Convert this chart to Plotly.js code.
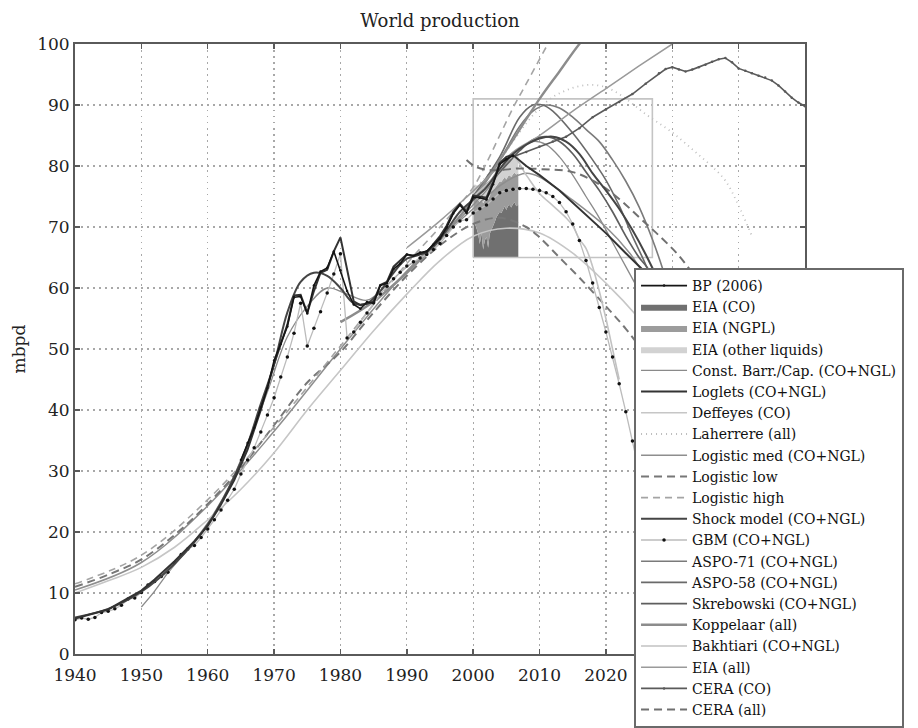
<!DOCTYPE html>
<html>
<head>
<meta charset="utf-8">
<script src="https://cdn.plot.ly/plotly-3.0.1.min.js"></script>
<style>
  html, body { margin: 0; padding: 0; background: #fff; }
  #chart { width: 918px; height: 728px; }
</style>
</head>
<body>
<div id="chart"></div>
<script>
// ---- Historical production, BP Statistical Review 2006 (mbpd) ----
var bpYears = [1965,1966,1967,1968,1969,1970,1971,1972,1973,1974,1975,1976,1977,1978,1979,1980,1981,1982,1983,1984,1985,1986,1987,1988,1989,1990,1991,1992,1993,1994,1995,1996,1997,1998,1999,2000,2001,2002,2003,2004,2005,2006];
var bpValues = [31.8,34.6,37.1,40.4,43.6,48.1,50.8,53.7,58.5,58.6,55.8,60.4,62.7,63.3,66.0,62.9,59.5,57.3,56.6,57.7,57.5,60.4,60.8,63.1,64.0,65.5,65.3,65.8,66.0,67.1,68.1,69.9,72.2,73.6,72.3,74.9,74.8,74.5,77.0,80.3,81.1,81.7];

// ---- EIA monthly data 2000-2006, stacked levels inside the 65-91 detail box ----
var eiaYears = [2000.0,2000.25,2000.5,2000.75,2001.0,2001.25,2001.5,2001.75,2002.0,2002.25,2002.5,2002.75,2003.0,2003.25,2003.5,2003.75,2004.0,2004.25,2004.5,2004.75,2005.0,2005.25,2005.5,2005.75,2006.0,2006.25,2006.5,2006.8];
var eiaFloor = 65;
var eiaCoTop = [70.2,70.6,69.8,68.9,67.2,69.0,66.3,67.8,68.4,66.6,68.9,69.5,70.3,70.8,71.6,72.0,72.5,72.3,73.0,73.4,72.8,73.5,73.6,73.2,73.8,74.0,73.4,73.7];
var eiaNgplTop = [74.6,75.0,74.7,74.3,74.1,74.6,73.9,74.4,74.8,74.5,75.2,75.6,76.0,76.4,76.9,77.2,77.5,77.4,77.9,78.2,77.8,78.3,78.5,78.2,78.7,78.9,78.6,78.8];
var eiaOtherTop = [76.6,77.0,76.8,76.5,76.3,76.8,76.2,76.7,77.1,76.9,77.6,78.0,78.5,79.0,79.5,79.8,80.2,80.1,80.6,80.9,80.6,81.1,81.4,81.1,81.6,81.9,81.6,81.8];

// ---- Detail box drawn around the 2000-2027 forecast region ----
var boxYears = [2000, 2027];
var boxLevels = [65, 91];

// ---- Axis ticks ----
var yearTicks = [1940,1950,1960,1970,1980,1990,2000,2010,2020,2030,2040,2050];
var yearTickLabels = ['1940','1950','1960','1970','1980','1990','2000','2010','2020','','',''];

// ---- Model fits and forecasts (mbpd) ----
var constBarrYears = [1950,1952,1954,1957,1960,1963,1966,1969,1972,1975,1978,1981,1984,1987,1990,1993,1996,1999,2002,2005,2007,2009,2011,2013,2015,2017,2019,2021,2023,2025,2028];
var constBarrValues = [7.7,10.3,13.3,17.2,21.5,27,34.5,43,52,57,60,59,58,60.5,63.5,65.5,69,72.5,76,80.5,82.8,84,83.5,81.5,78.5,75,71.5,67.5,63.5,59.5,53];

var logletYears = [1940,1945,1950,1952,1955,1958,1960,1962,1964,1966,1968,1970,1972,1973,1974,1975,1976,1977,1978,1979,1980,1981,1982,1983,1984,1985,1986,1987,1988,1989,1990,1991,1992,1993,1994,1995,1996,1997,1998,1999,2000,2001,2002,2003,2004,2005,2006,2008,2010,2013,2015,2018,2020,2023,2026,2030];
var logletValues = [5.8,7.3,10.4,12.2,15.2,18.5,21,24.5,28.5,33.5,40,47.5,54,58.8,58.9,55.9,59.5,62.5,63,66,68.3,63,57.8,57.2,57.4,57.8,60.5,61,63.5,64.5,65.5,65.3,65.6,65.8,67.2,68.5,70.2,72.5,73.8,72.5,75.2,75,74.8,77.3,80.5,81.5,81.8,80,78.5,76,74,71,69,65.7,62.5,57];

var deffeyesYears = [1940,1945,1950,1955,1960,1965,1970,1975,1980,1985,1990,1995,2000,2005,2010,2015,2020,2025,2030];
var deffeyesValues = [10.0,12.0,14.2,17.5,22,27,33,40,46.5,53,59,64.5,68.5,69.8,69,65.7,60.8,55,48];

var laherrereYears = [2000,2003,2006,2008,2010,2012,2014,2016,2018,2020,2022,2024,2026,2028,2030,2032,2034,2036,2038,2040,2042];
var laherrereValues = [76,79.5,84,87,89.5,91.3,92.4,93.1,93.3,92.9,91.8,90.2,88.5,87,85.5,83.7,81.8,79.9,77.6,73.5,68.5];

var logMedYears = [1940,1950,1960,1970,1980,1990,2000,2005,2008,2010,2015,2020,2023.6,2025,2030];
var logMedValues = [10.5,15.0,24.3,36.5,50,62.8,73,77.5,78.8,78.2,74.4,70,65.7,63.5,55];

var logLowYears = [1940,1945,1950,1955,1960,1965,1970,1975,1980,1985,1990,1995,2000,2004,2008,2010,2013,2016,2020,2023,2026,2030];
var logLowValues = [11.0,13,15.5,19.5,24.6,30.5,37.5,44.5,49.5,56,62,67,70.5,71.5,70,68.3,65,61.7,57,53.3,49,43];

var logHighYears = [1940,1950,1960,1970,1980,1990,1995,2000,2002,2004,2006,2008,2010,2012];
var logHighValues = [11.5,16.2,25.3,37.2,50.5,64,70,76.5,80.5,85,89.5,93.5,97.5,101.5];

var shockYears = [1940,1945,1950,1955,1960,1965,1968,1970,1972,1974,1976,1978,1980,1982,1984,1986,1988,1990,1992,1994,1996,1998,2000,2002,2004,2006,2008,2010,2012,2014,2016,2018,2020,2022,2024,2026,2028,2030];
var shockValues = [6.0,7.4,10.2,14.8,21.2,31.5,41,47.5,56,61,62.5,62,60,57.5,57.5,59.5,62.5,64.8,65.5,66.8,69.5,72.5,74.5,76.5,79.5,82,83.5,84.5,84.8,84,82,78.8,76,73,69.5,65.5,61,56];

var gbmYears = [1940,1941,1942,1943,1944,1945,1946,1947,1948,1949,1950,1951,1952,1953,1954,1955,1956,1957,1958,1959,1960,1961,1962,1963,1964,1965,1966,1967,1968,1969,1970,1971,1972,1973,1974,1975,1976,1977,1978,1979,1980,1981,1982,1983,1984,1985,1986,1987,1988,1989,1990,1991,1992,1993,1994,1995,1996,1997,1998,1999,2000,2001,2002,2003,2004,2005,2006,2007,2008,2009,2010,2011,2012,2013,2014,2015,2016,2017,2018,2019,2020,2021,2022,2023,2024,2025];
var gbmValues = [5.6,5.9,5.7,6.0,6.8,7.0,7.4,8.0,9.0,9.2,10.1,11.3,11.9,12.7,13.4,15.0,16.3,17.2,17.8,19.1,20.5,22.0,23.6,25.2,27.0,29.5,31.8,33.8,36.4,39.2,42.0,45.4,48.7,52.6,57.5,50.5,53.4,56.1,59.2,62.3,65.6,51.8,52.8,54.4,55.9,57.6,59.0,60.3,61.5,62.6,63.6,64.3,64.9,65.5,66.3,67.3,68.6,70.0,71.0,71.2,72.3,73.0,73.6,74.6,75.6,76.0,76.2,76.3,76.3,76.2,76.0,75.6,75.0,74.0,72.5,70.5,67.8,64.5,60.8,56.8,52.8,48.7,44.3,39.7,34.9,30.0];

var aspo71Years = [2000,2004,2007,2009,2011,2013,2015,2017,2019,2021,2023,2025,2027,2028.6,2030];
var aspo71Values = [75,81,86.5,89,90,89.5,88,86,84,81,77.5,73.3,68,63,58];

var aspo58Years = [2000,2004,2007,2009,2010.5,2012,2015,2018,2020,2022,2024,2026,2028];
var aspo58Values = [75,81.5,88,90,90,89,85.4,81,77.7,73.5,68.5,63.8,58];

var skrebYears = [2000,2004,2007,2009,2011,2013,2015,2017,2019,2021,2023,2025,2026.2,2028];
var skrebValues = [75,79,82.5,84.3,84.8,84,82,79,76,72.5,68.5,65,63.4,60];

var koppYears = [1980,1985,1990,1995,2000,2005,2010,2013,2016,2020];
var koppValues = [54.4,57.8,62.5,68,74.5,82.6,91,95.5,100,105];

var bakhYears = [2000,2003,2006,2008,2010,2012,2014,2015,2016,2017,2018,2019,2020,2021,2022];
var bakhValues = [75,78,81.5,78.5,75.5,73.5,71.5,70.2,68,66.5,63.5,59.5,55,50,45];

var eiaAllYears = [1990,1995,1999,2003,2006,2010,2015,2020,2025,2030,2035];
var eiaAllValues = [66.6,71,74.9,79,82.3,85,89,92.7,96.4,100,103.5];

var ceraCoYears = [2006,2008,2010,2012,2014,2016,2018,2020,2022,2024,2026,2028,2029,2030,2031,2032,2033,2034,2035,2036,2037,2038,2039,2040,2041,2042,2043,2044,2045,2046,2047,2048,2049,2050];
var ceraCoValues = [81.5,82.3,83.2,84,84.8,86.2,88,89.3,90.5,91.8,93.5,95.2,95.9,96.2,95.8,95.5,95.8,96.2,96.6,97.1,97.5,97.7,97.0,96.0,95.6,95.2,94.8,94.5,94.0,93.2,92.2,91.2,90.4,89.8];

var ceraAllYears = [1999,2000.5,2003,2007,2010,2015,2019,2022,2025,2028,2031,2034];
var ceraAllValues = [81,79.8,79.3,79.6,79.5,79,77,74.6,71.6,68.6,65.3,61];

// ---- Styling ----
var SERIF = '"DejaVu Serif", "Liberation Serif", serif';

function line(name, x, y, color, width, opts) {
  opts = opts || {};
  var t = {
    type: 'scatter', mode: opts.mode || 'lines', name: name, x: x, y: y,
    line: {color: color, width: width, dash: opts.dash || 'solid', shape: opts.shape || 'linear', smoothing: 1},
    legendrank: opts.rank, showlegend: true, hoverinfo: 'skip'
  };
  if (opts.marker) t.marker = opts.marker;
  return t;
}

var traces = [];

// stacked EIA areas (floor is an invisible helper line)
traces.push({type:'scatter', mode:'lines', x: eiaYears, y: eiaYears.map(function(){return eiaFloor;}),
  line:{width:0, color:'rgba(0,0,0,0)'}, showlegend:false, hoverinfo:'skip'});
traces.push({type:'scatter', mode:'lines', name:'EIA (CO)', x: eiaYears, y: eiaCoTop, fill:'tonexty',
  fillcolor:'#707070', line:{width:0, color:'#707070'}, legendrank:2, hoverinfo:'skip'});
traces.push({type:'scatter', mode:'lines', name:'EIA (NGPL)', x: eiaYears, y: eiaNgplTop, fill:'tonexty',
  fillcolor:'#9c9c9c', line:{width:0, color:'#9c9c9c'}, legendrank:3, hoverinfo:'skip'});
traces.push({type:'scatter', mode:'lines', name:'EIA (other liquids)', x: eiaYears, y: eiaOtherTop, fill:'tonexty',
  fillcolor:'#d2d2d2', line:{width:0, color:'#d2d2d2'}, legendrank:4, hoverinfo:'skip'});

// detail box
traces.push({type:'scatter', mode:'lines', showlegend:false, hoverinfo:'skip',
  x:[boxYears[0], boxYears[1], boxYears[1], boxYears[0], boxYears[0]],
  y:[boxLevels[0], boxLevels[0], boxLevels[1], boxLevels[1], boxLevels[0]],
  line:{color:'#c4c4c4', width:1.6}});

traces.push(line('Const. Barr./Cap. (CO+NGL)', constBarrYears, constBarrValues, '#8a8a8a', 1.3, {rank:5, shape:'spline'}));
traces.push(line('Deffeyes (CO)', deffeyesYears, deffeyesValues, '#c6c6c6', 1.6, {rank:7, shape:'spline'}));
traces.push(line('Laherrere (all)', laherrereYears, laherrereValues, '#bdbdbd', 1.8, {rank:8, shape:'spline', dash:'1px,4px'}));
traces.push(line('Logistic med (CO+NGL)', logMedYears, logMedValues, '#8e8e8e', 1.5, {rank:9, shape:'spline'}));
traces.push(line('Logistic low', logLowYears, logLowValues, '#777777', 2, {rank:10, shape:'spline', dash:'8px,5px'}));
traces.push(line('Logistic high', logHighYears, logHighValues, '#a4a4a4', 1.6, {rank:11, shape:'spline', dash:'7px,5px'}));
traces.push(line('ASPO-71 (CO+NGL)', aspo71Years, aspo71Values, '#7a7a7a', 1.6, {rank:14, shape:'spline'}));
traces.push(line('ASPO-58 (CO+NGL)', aspo58Years, aspo58Values, '#6a6a6a', 1.6, {rank:15, shape:'spline'}));
traces.push(line('Skrebowski (CO+NGL)', skrebYears, skrebValues, '#5e5e5e', 1.7, {rank:16, shape:'spline'}));
traces.push(line('Koppelaar (all)', koppYears, koppValues, '#8c8c8c', 2.4, {rank:17, shape:'spline'}));
traces.push(line('Bakhtiari (CO+NGL)', bakhYears, bakhValues, '#c2c2c2', 1.6, {rank:18, shape:'spline'}));
traces.push(line('EIA (all)', eiaAllYears, eiaAllValues, '#9a9a9a', 1.5, {rank:19, shape:'spline'}));
traces.push(line('CERA (CO)', ceraCoYears, ceraCoValues, '#5a5a5a', 1.6, {rank:20, mode:'lines+markers', marker:{size:2.5, color:'#5a5a5a'}}));
traces.push(line('CERA (all)', ceraAllYears, ceraAllValues, '#707070', 2, {rank:21, shape:'spline', dash:'8px,5px'}));
traces.push(line('GBM (CO+NGL)', gbmYears, gbmValues, '#bbbbbb', 1.3, {rank:13, mode:'lines+markers', marker:{size:3.5, color:'#111'}}));
traces.push(line('Shock model (CO+NGL)', shockYears, shockValues, '#454545', 2, {rank:12, shape:'spline'}));
traces.push(line('Loglets (CO+NGL)', logletYears, logletValues, '#333333', 2, {rank:6}));
traces.push(line('BP (2006)', bpYears, bpValues, '#161616', 1.6, {rank:1, mode:'lines+markers', marker:{size:2.5, color:'#161616'}}));

var axisCommon = {
  showline: true, linecolor: '#5a5a5a', linewidth: 2, mirror: 'ticks',
  ticks: 'inside', ticklen: 5, tickwidth: 1.5, tickcolor: '#5a5a5a',
  showgrid: true, gridcolor: '#a8a8a8', gridwidth: 1.3, griddash: '1.5px,4.5px',
  zeroline: false, tickfont: {family: SERIF, size: 17, color: '#222'}
};

var layout = {
  width: 918, height: 728,
  paper_bgcolor: '#fff', plot_bgcolor: '#fff',
  margin: {l: 75, r: 113, t: 44, b: 74, autoexpand: false},
  font: {family: SERIF, color: '#222'},
  title: {text: 'World production', font: {family: SERIF, size: 18, color: '#222'},
          xref: 'paper', x: 0.5, xanchor: 'center', yref: 'container', y: 0.972, yanchor: 'middle'},
  xaxis: Object.assign({}, axisCommon, {range: [1940, 2050], tickmode: 'array',
          tickvals: yearTicks, ticktext: yearTickLabels, ticklabelstandoff: 5}),
  yaxis: Object.assign({}, axisCommon, {range: [0, 100], tick0: 0, dtick: 10,
          title: {text: 'mbpd', font: {family: SERIF, size: 17, color: '#222'}, standoff: 7}}),
  showlegend: true,
  legend: {x: 0.7658, y: 0.6328, xanchor: 'left', yanchor: 'top', bgcolor: '#fff',
           bordercolor: '#6a6a6a', borderwidth: 2, itemwidth: 46, traceorder: 'normal',
           font: {family: SERIF, size: 14, color: '#111'}, tracegroupgap: 0}
};

Plotly.newPlot('chart', traces, layout, {staticPlot: true, displayModeBar: false});
</script>
</body>
</html>
